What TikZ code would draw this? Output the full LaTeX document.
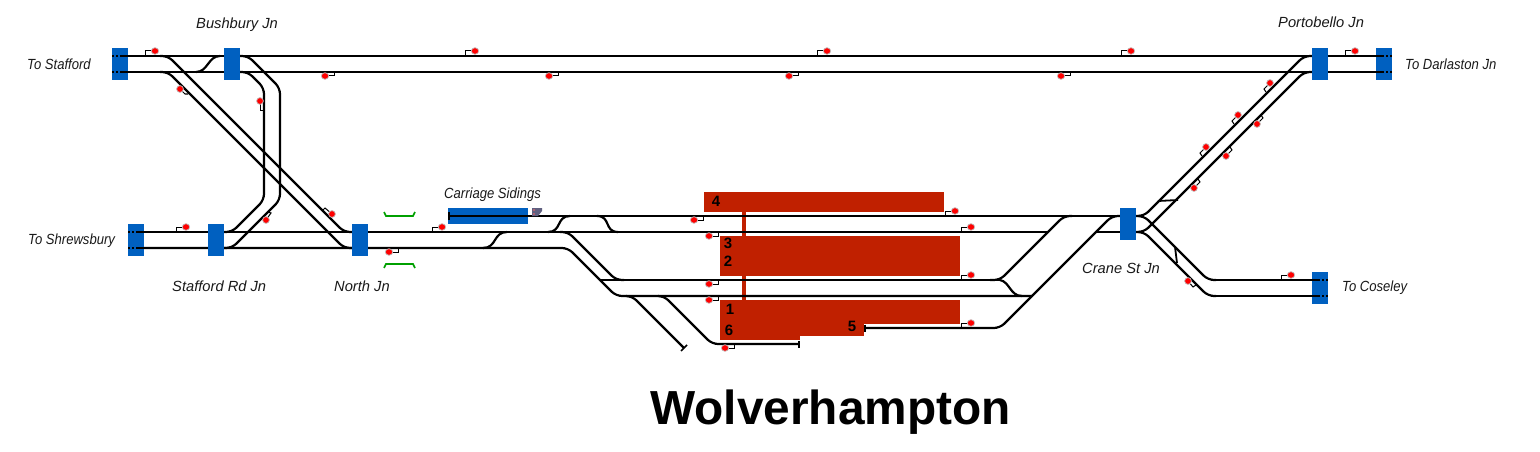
\documentclass[tikz,border=0pt]{standalone}
\usepackage{fontspec}
\setmainfont{Liberation Sans}
\newfontface\labnarrow[FakeStretch=0.89]{Liberation Sans Italic}
\definecolor{boxblue}{HTML}{0060C0}
\definecolor{platred}{HTML}{C02000}
\definecolor{trackgreen}{HTML}{00A000}
\definecolor{dotgrey}{HTML}{606080}
\tikzset{
 blk/.style={fill=boxblue,draw=none,inner sep=0pt,outer sep=0pt},
 plat/.style={fill=platred,draw=none},
 track/.style={draw=black,line width=2.2pt,rounded corners=6pt},
 post/.style={draw=black,line width=1pt},
 sigdot/.style={fill=red,draw=black!25,line width=0.7pt},
 lab/.style={font=\itshape\fontsize{14.7}{16}\selectfont,anchor=west,inner sep=0pt,text=black!90},
 labn/.style={font=\labnarrow\fontsize{14.7}{16}\selectfont,anchor=west,inner sep=0pt,text=black!90},
 plnum/.style={font=\bfseries\fontsize{15}{15}\selectfont,inner sep=0pt},
 endmark/.style={draw=black,line width=2.2pt},
 green/.style={draw=trackgreen,line width=1.6pt}
}
\newcommand{\sigUp}[2]{\draw[post] (#1-10,#2+5) -- (#1-10,#2) -- (#1,#2); \filldraw[sigdot] (#1,#2) ellipse (3.7 and 3.3);}
\newcommand{\sigDown}[2]{\draw[post] (#1+9,#2-4) -- (#1+9,#2) -- (#1,#2); \filldraw[sigdot] (#1,#2) ellipse (3.7 and 3.3);}
\newcommand{\sigFree}[5]{\draw[post] (#1,#2) -- (#3,#4) -- #5; \filldraw[sigdot] (#1,#2) ellipse (3.4 and 3.4);}
\begin{document}
\begin{tikzpicture}[x=1pt,y=-1pt]
\useasboundingbox (0,0) rectangle (1540,452);
\fill[blk] (448,208) rectangle (528,224);
% platforms
\fill[plat] (704,192) rectangle (944,212);
\fill[plat] (720,236) rectangle (960,276);
\fill[plat] (720,300) rectangle (960,324);
\fill[plat] (720,324) rectangle (864,336);
\fill[plat] (720,336) rectangle (800,340);
\fill[plat] (742,212) rectangle (746,236);
\fill[plat] (742,276) rectangle (746,300);
% main running lines
\draw[track] (128,56) -- (1376,56);
\draw[track] (128,72) -- (1376,72);
\draw[track] (144,232) -- (1048,232);
\draw[track] (144,248) -- (568,248) -- (616,296) -- (1032,296);
\draw[track] (449,216) -- (1144,216);
\draw[track] (1096,232) -- (1144,232);
\draw[track] (1216,280) -- (1312,280) (1216,296) -- (1312,296);
% Bushbury / North diagonals
\draw[track] (160,56) -- (168,56) -- (344,232) -- (352,232);
\draw[track] (160,72) -- (168,72) -- (344,248) -- (352,248);
\draw[track] (196,72) .. controls (208,72) and (208,56) .. (220,56);
\draw[track] (240,56) -- (248,56) -- (280,88) -- (280,200) -- (232,248) -- (224,248);
\draw[track] (240,72) -- (248,72) -- (264,88) -- (264,200) -- (232,232) -- (224,232);
% crossovers
\draw[track] (483,248) .. controls (497,248) and (493,232) .. (507,232);
\draw[track] (548,232) .. controls (562,232) and (556,216) .. (570,216);
\draw[track] (597,216) .. controls (611,216) and (604,232) .. (618,232);
\draw[track] (560,232) -- (568,232) -- (616,280) -- (624,280);
\draw[track] (600,280) -- (1000,280);
% sidings
\draw[track] (626,296) -- (632,296) -- (684,348);
\draw[endmark,line width=1.6pt] (681,351) -- (687,345);
\draw[track] (658,296) -- (664,296) -- (712,344) -- (799,344);
\draw[endmark,line width=1.6pt] (799,340.5) -- (799,347.5);
\draw[endmark] (449,212) -- (449,220);
\draw[track] (865,328) -- (1000,328) -- (1112,216) -- (1120,216);
\draw[endmark,line width=1.6pt] (865,324.5) -- (865,331.5);
\draw[track] (990,280) -- (1000,280) -- (1064,216) -- (1072,216);
\draw[track] (1000,280) .. controls (1010,282) and (1010,296) .. (1022,296);
% Crane St / Portobello / Coseley
\draw[track] (1136,216) -- (1144,216) -- (1304,56) -- (1312,56);
\draw[track] (1136,232) -- (1144,232) -- (1304,72) -- (1312,72);
\draw[track] (1140,216) -- (1144,216) -- (1208,280) -- (1216,280);
\draw[track] (1140,232) -- (1144,232) -- (1208,296) -- (1216,296);
\draw[track,line width=1.8pt] (1158,201) -- (1178,200);
\draw[track,line width=1.8pt] (1175,247) -- (1177,263);
% signal-box blocks sit over the lines
\foreach \x/\y in {112/48,224/48,1312/48,1376/48,128/224,208/224,352/224,1120/208,1312/272}
  \fill[blk] (\x,\y) rectangle ++(16,32);
% line ends on the outer blocks
\draw[endmark] (120,56)--(128,56) (120,72)--(128,72) (112,56)--(114,56) (116,56)--(118,56) (112,72)--(114,72) (116,72)--(118,72);
\draw[endmark] (136,232)--(144,232) (136,248)--(144,248) (128,232)--(130,232) (132,232)--(134,232) (128,248)--(130,248) (132,248)--(134,248);
\draw[endmark] (1376,56)--(1384,56) (1376,72)--(1384,72) (1386,56)--(1388,56) (1390,56)--(1392,56) (1386,72)--(1388,72) (1390,72)--(1392,72);
\draw[endmark] (1312,280)--(1320,280) (1312,296)--(1320,296) (1322,280)--(1324,280) (1326,280)--(1328,280) (1322,296)--(1324,296) (1326,296)--(1328,296);
% green brackets
\draw[green] (384,212) -- (386,216) -- (413,216) -- (415,212);
\draw[green] (384,268) -- (386,264) -- (413,264) -- (415,268);
% carriage sidings signal
\fill[dotgrey] (532,208) -- (542,208) -- (542,211) -- (538,216) -- (532,216) -- cycle;
\fill[red!60!white] (534,210) circle (0.9) (534,214) circle (0.9);
% signals
\foreach \x in {155,475,827,1131,1355} {\sigUp{\x}{51}}
\sigUp{186}{227}\sigUp{442}{227}
\sigUp{955}{211}\sigUp{971}{227}\sigUp{971}{275}\sigUp{971}{323}\sigUp{1291}{275}
\foreach \x in {325,549,789,1061} {\sigDown{\x}{76}}
\sigDown{389}{252}\sigDown{694}{220}\sigDown{709}{236}\sigDown{709}{284}\sigDown{709}{300}\sigDown{725}{348}
\sigFree{180}{89}{185}{94}{(188,94)}
\sigFree{260}{101}{260}{110}{(264,110)}
\sigFree{266}{220}{271}{213}{(268,212)}
\sigFree{332}{214}{325}{208}{(323,210)}
\sigFree{1188}{281}{1193}{287}{(1196,285)}
\sigFree{1270}{83}{1264}{89}{(1266,92)}
\sigFree{1238}{115}{1232}{121}{(1234,124)}
\sigFree{1206}{147}{1200}{153}{(1202,156)}
\sigFree{1257}{124}{1263}{118}{(1261,115)}
\sigFree{1226}{156}{1232}{150}{(1230,147)}
\sigFree{1194}{188}{1200}{182}{(1198,179)}
% labels
\node[labn] (tostafford) at (27,64.5) {To Stafford};
\node[lab] (bushbury) at (196,25) {Bushbury Jn};
\node[labn] (toshrews) at (28,241) {To Shrewsbury};
\node[lab] (staffordrd) at (172,286) {Stafford Rd Jn};
\node[lab] (northjn) at (334,286) {North Jn};
\node[labn] (carriage) at (444,195) {Carriage Sidings};
\node[lab] (cranest) at (1082,268) {Crane St Jn};
\node[labn] (tocoseley) at (1342,288) {To Coseley};
\node[lab] (portobello) at (1278,22) {Portobello Jn};
\node[labn] (todarlaston) at (1405,64.5) {To Darlaston Jn};
\node[plnum] (p4) at (716,201) {4};
\node[plnum] (p3) at (728,243.5) {3};
\node[plnum] (p2) at (728,261) {2};
\node[plnum] (p1) at (730,309) {1};
\node[plnum] (p6) at (729,330) {6};
\node[plnum] (p5) at (852,326) {5};
\node[font=\bfseries\fontsize{47.8}{50}\selectfont,inner sep=0pt] (title) at (830.5,412.5) {Wolverhampton};
\end{tikzpicture}
\end{document}
